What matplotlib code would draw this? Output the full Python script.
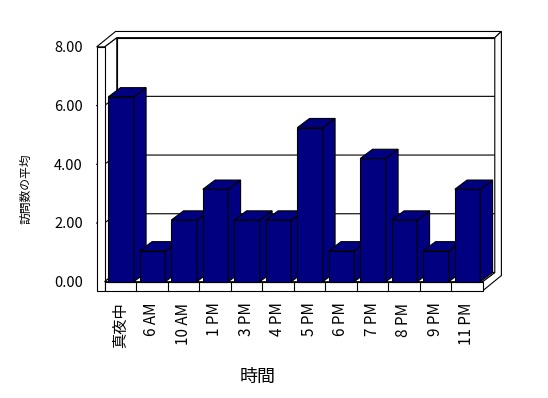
import numpy as np
import matplotlib.pyplot as plt
from matplotlib.patches import Polygon

plt.rcParams['font.family'] = ['Noto Sans CJK JP', 'DejaVu Sans']

# data
categories = ['真夜中', '6 AM', '10 AM', '1 PM', '3 PM', '4 PM',
              '5 PM', '6 PM', '7 PM', '8 PM', '9 PM', '11 PM']
visits = [6, 1, 2, 3, 2, 2, 5, 1, 4, 2, 1, 3]
y_ticks = [0, 2, 4, 6, 8]

# pseudo-3D geometry (data units)
N = len(categories)
DX, DY = 0.39, 0.30      # depth of floor / bars
TX, TY = 0.21, 0.20      # wall thickness
LW, FT = 0.25, 0.30      # left wall width, floor thickness
WS = 0.953               # wall scale vs bar scale
H = 8 * WS
BAR_COLOR = '#000080'
EDGE = dict(edgecolor='black', linewidth=0.8, clip_on=False)

fig = plt.figure(figsize=(5.48, 3.98), dpi=100)
ax = fig.add_axes([104.5 / 548, 116.3 / 398, 378 / 548, 246.4 / 398])
ax.set_xlim(0, N)
ax.set_ylim(0, 8)
for s in ax.spines.values():
    s.set_visible(False)


def poly(pts, fc, z):
    p = Polygon(pts, closed=True, facecolor=fc, zorder=z, **EDGE)
    ax.add_patch(p)


# back wall front face
poly([(DX, DY), (N + DX, DY), (N + DX, H + DY), (DX, H + DY)], 'white', 1)
# left wall inner face
poly([(0, 0), (DX, DY), (DX, H + DY), (0, H)], 'white', 1)
# gridlines on walls
for v in y_ticks[1:-1]:
    ax.plot([-LW, 0, DX, N + DX], [v * WS, v * WS, DY + v * WS, DY + v * WS],
            color='black', lw=0.8, zorder=1.5, clip_on=False)
# top of walls
poly([(-LW, H), (0, H), (DX, H + DY), (N + DX, H + DY),
      (N + DX + TX, H + DY + TY), (-LW + DX + TX, H + DY + TY)], 'white', 2)
# right side of back wall + floor
poly([(N, 0), (N, -FT), (N + DX + TX, -FT + DY + TY), (N + DX + TX, H + DY + TY),
      (N + DX, H + DY), (N + DX, DY)], 'white', 2)
# left wall front face
poly([(-LW, -FT), (0, -FT), (0, H), (-LW, H)], 'white', 2)
# floor top and front
poly([(0, 0), (N, 0), (N + DX, DY), (DX, DY)], 'white', 2)
poly([(0, -FT), (N, -FT), (N, 0), (0, 0)], 'white', 2)
for i in range(1, N):
    ax.plot([i, i], [-FT, 0], color='black', lw=0.8, zorder=2.1, clip_on=False)

# bars
x0 = np.arange(N) + 0.12
w = 0.81
bars = ax.bar(x0, visits, width=w, align='edge', color=BAR_COLOR, **EDGE)
for i, (b, v) in enumerate(zip(bars, visits)):
    z = 3 + 0.01 * i
    b.set_zorder(z)
    xl, xr = x0[i], x0[i] + w
    poly([(xr, 0), (xr + DX, DY), (xr + DX, v + DY), (xr, v)], BAR_COLOR, z)
    poly([(xl, v), (xr, v), (xr + DX, v + DY), (xl + DX, v + DY)], BAR_COLOR, z)

# axes text
ax.set_xticks(np.arange(N) + 0.5, categories, rotation=90, fontsize=11)
ax.set_yticks([v * WS for v in y_ticks], [f'{v:.2f}' for v in y_ticks], fontsize=10.5)
ax.tick_params(axis='x', length=0, pad=15)
ax.tick_params(axis='y', length=0, pad=15.5)
ax.set_xlabel('時間', fontsize=13)
ax.xaxis.set_label_coords(0.406, -0.350)
ax.set_ylabel('訪問数の平均', fontsize=8.5, va='center')
ax.yaxis.set_label_coords(-0.2077, 0.376)

fig.savefig('out.png', dpi=100)
